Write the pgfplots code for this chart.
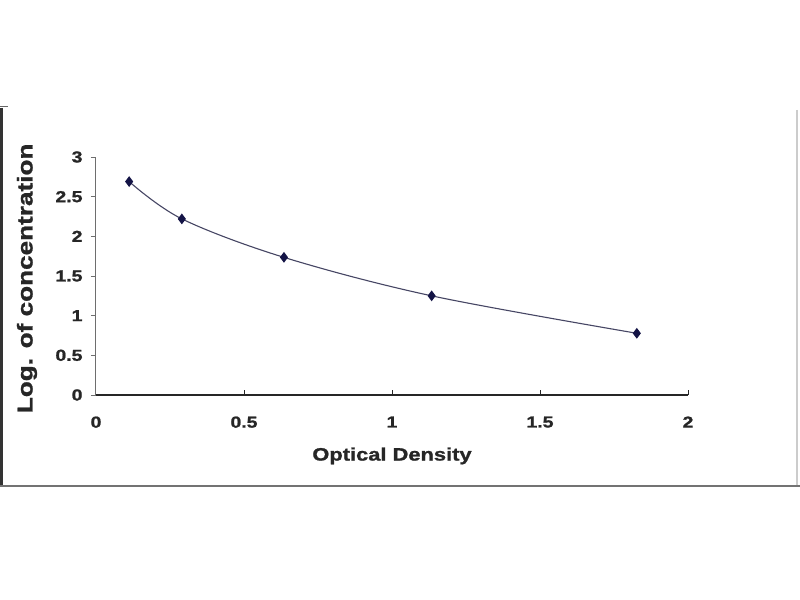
\documentclass[border=0pt]{standalone}
\usepackage{pgfplots}
\pgfplotsset{compat=1.18}
\usepackage{fontspec}
\setmainfont{Liberation Sans}[FakeStretch=1.22, BoldFeatures={FakeBold=1.2}]
\definecolor{curve}{RGB}{70,70,100}
\definecolor{markc}{RGB}{20,20,70}
\definecolor{axgray}{RGB}{110,110,110}
\begin{document}
\begin{tikzpicture}
\useasboundingbox (-96bp,-205bp) rectangle (704bp,395bp);
\fill[white] (-96bp,-205bp) rectangle (704bp,395bp);
\draw[line width=2.5bp, black!80] (-94.5bp,287bp) -- (-94.5bp,-92bp);
\draw[line width=2bp, black!55] (-96bp,-90.5bp) -- (704bp,-90.5bp);
\draw[line width=2bp, black!20] (700.5bp,285bp) -- (700.5bp,-90bp);
\draw[line width=1bp, black!60] (-96bp,288bp) -- (-88bp,288bp);
\begin{axis}[
  at={(0,0)}, anchor=south west,
  scale only axis, width=592bp, height=238bp,
  xmin=0, xmax=2, ymin=0, ymax=3,
  axis x line=bottom, axis y line=left,
  x axis line style={-, line width=1.3bp, black!85},
  y axis line style={-, line width=1bp, axgray},
  xtick={0,0.5,1,1.5,2}, ytick={0,0.5,1,1.5,2,2.5,3},
  xticklabels={0,0.5,1,1.5,2},
  yticklabels={0,0.5,1,1.5,2,2.5,3},
  xtick align=inside, ytick align=outside,
  x tick style={line width=1bp, black!85}, y tick style={line width=0.8bp, axgray},
  major tick length=5bp,
  /pgf/number format/assume math mode=true,
  tick label style={font=\bfseries\fontsize{16}{19}\selectfont, text=black!85},
  xticklabel style={yshift=-18bp},
  yticklabel style={xshift=-5bp},
  xlabel={Optical Density},
  ylabel={Log. of concentration},
  xlabel style={at={(axis description cs:0.5,-0.256)}, anchor=center, font=\bfseries\fontsize{18}{21}\selectfont, text=black!85},
  ylabel style={at={(axis description cs:-0.1166,0.49)}, anchor=center, font=\bfseries\fontsize{21.5}{25}\selectfont, text=black!85},
  clip=false,
]
\addplot[curve, line width=1.1bp, smooth, tension=0.55, mark=diamond*, mark size=4.5bp, mark options={fill=markc, draw=markc}]
  coordinates {(0.112,2.69) (0.29,2.22) (0.635,1.735) (1.134,1.25) (1.827,0.778)};
\end{axis}
\end{tikzpicture}
\end{document}
